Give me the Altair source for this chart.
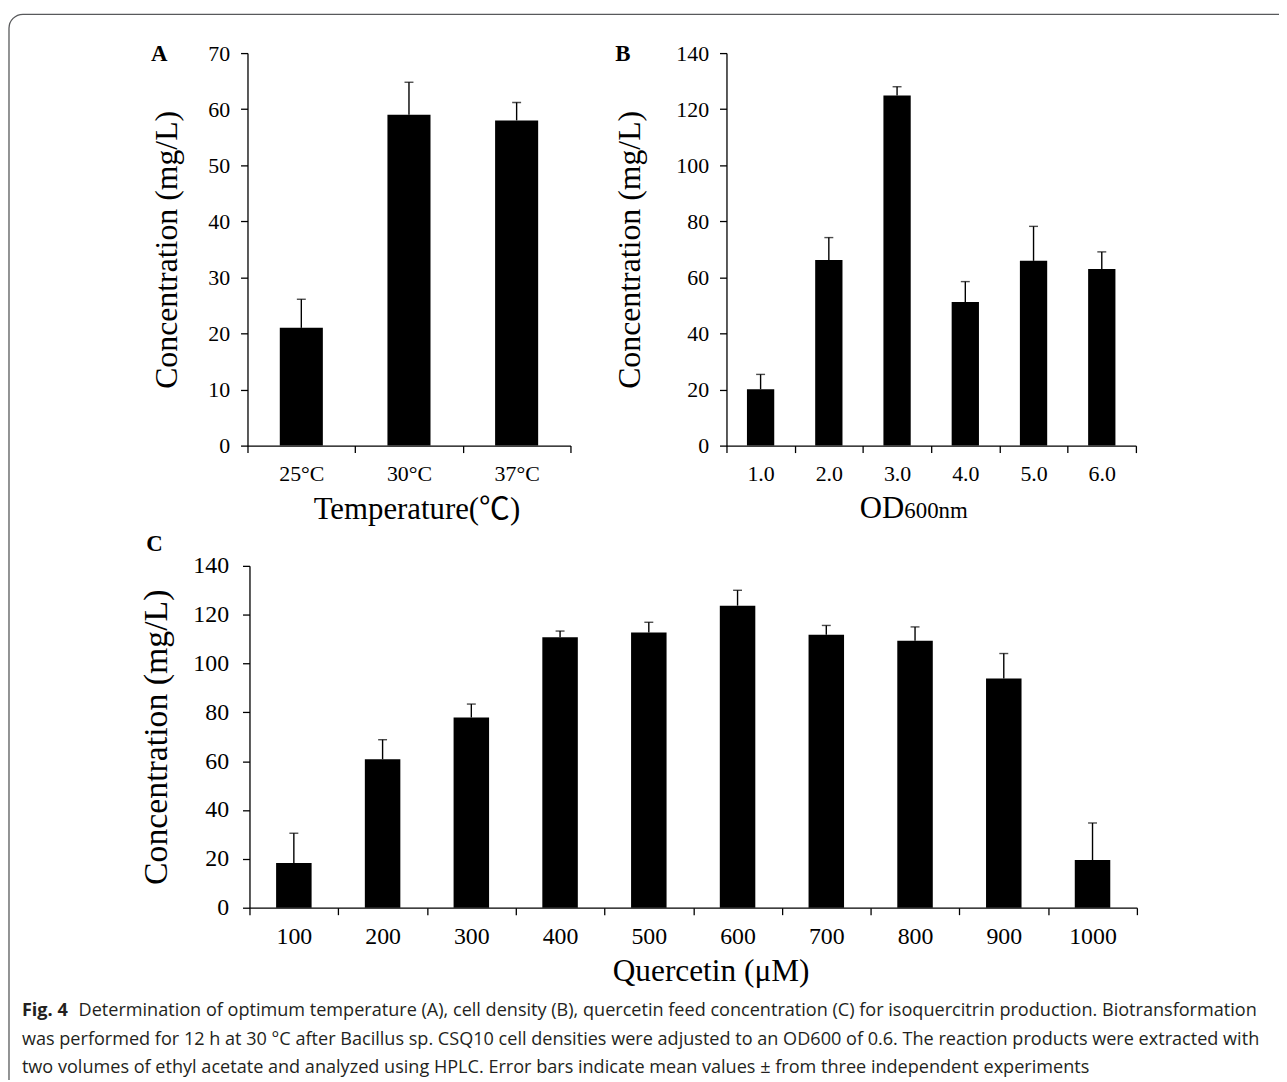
import altair as alt
import pandas as pd

# ---------------- data ----------------
temp_labels = ["25°C", "30°C", "37°C"]
temp_vals = [21.0, 59.0, 58.0]
temp_errs = [5.1, 5.8, 3.2]

od_labels = ["1.0", "2.0", "3.0", "4.0", "5.0", "6.0"]
od_vals = [20.1, 66.2, 124.9, 51.2, 65.9, 63.0]
od_errs = [5.3, 8.0, 3.1, 7.3, 12.3, 6.1]

q_labels = ["100", "200", "300", "400", "500", "600", "700", "800", "900", "1000"]
q_vals = [18.3, 60.8, 77.9, 110.8, 112.7, 123.7, 111.8, 109.3, 93.9, 19.5]
q_errs = [12.2, 8.0, 5.5, 2.5, 4.2, 6.3, 3.8, 5.7, 10.2, 15.2]

a_ticks = [0, 10, 20, 30, 40, 50, 60, 70]
bc_ticks = [0, 20, 40, 60, 80, 100, 120, 140]

caption_lines = [
    "Determination of optimum temperature (A), cell density (B), quercetin feed concentration (C) for isoquercitrin production. Biotransformation",
    "was performed for 12 h at 30 °C after Bacillus sp. CSQ10 cell densities were adjusted to an OD600 of 0.6. The reaction products were extracted with",
    "two volumes of ethyl acetate and analyzed using HPLC. Error bars indicate mean values ± from three independent experiments",
]

W, H = 1279, 1072
SERIF = "Liberation Serif"
SANS = "Open Sans"


def panel(labels, vals, errs, ymax, yticks, xr, yr, lab_fs,
          xtitle, xtitle_x, xtitle_y, xtitle_fs,
          ytitle_x, ytitle_fs, ylabpad, xlabpad):
    df = pd.DataFrame({"cat": labels, "val": vals, "err": errs})
    df["hi"] = df["val"] + df["err"]
    xaxis_kw = dict(
        orient="bottom", offset=yr[0] - H, labelAngle=0, tickBand="extent",
        labelFont=SERIF, labelFontSize=lab_fs, labelColor="black", labelPadding=xlabpad,
        domainColor="black", domainWidth=1.3, tickColor="black", tickWidth=1.3, tickSize=7,
        grid=False,
    )
    if xtitle:
        xaxis_kw.update(title=xtitle, titleFont=SERIF + ", Noto Sans CJK SC",
                        titleFontSize=xtitle_fs, titleFontWeight="normal", titleColor="black",
                        titleX=xtitle_x, titleY=xtitle_y, titleBaseline="alphabetic",
                        titleAlign="center")
    else:
        xaxis_kw.update(title=None)
    x = alt.X("cat:N", sort=labels,
              scale=alt.Scale(range=xr, paddingInner=0, paddingOuter=0),
              axis=alt.Axis(**xaxis_kw))
    y = alt.Y("val:Q",
              scale=alt.Scale(domain=[0, ymax], range=yr, nice=False, zero=True),
              axis=alt.Axis(orient="left", offset=-xr[0], values=yticks, format="d",
                            labelFont=SERIF, labelFontSize=lab_fs, labelColor="black",
                            labelPadding=ylabpad,
                            domainColor="black", domainWidth=1.3, tickColor="black",
                            tickWidth=1.3, tickSize=7, grid=False,
                            title="Concentration (mg/L)", titleFont=SERIF,
                            titleFontSize=ytitle_fs, titleFontWeight="normal",
                            titleColor="black", titleAngle=270,
                            titleX=ytitle_x, titleY=(yr[0] + yr[1]) / 2,
                            titleBaseline="middle", titleAlign="center"))
    base = alt.Chart(df)
    bars = base.mark_bar(color="black", width={"band": 0.4}).encode(x=x, y=y)
    rule = base.mark_rule(color="black", strokeWidth=1.4).encode(
        x=alt.X("cat:N", sort=labels), y="val:Q", y2="hi:Q")
    cap = base.mark_tick(color="black", thickness=1.4, size=9).encode(
        x=alt.X("cat:N", sort=labels), y="hi:Q")
    return alt.layer(bars, rule, cap)


# panel plot rectangles in chart coordinates (page minus 8px margin)
pa = panel(temp_labels, temp_vals, temp_errs, 70, a_ticks, [241, 566], [437, 42], 22,
           "Temperature(℃)", 411, 73, 31, -81.5, 32, 11, 11)
pb = panel(od_labels, od_vals, od_errs, 140, bc_ticks, [723, 1135], [437, 42], 22,
           None, 0, 0, 0, -98, 32, 11, 11)
pc = panel(q_labels, q_vals, q_errs, 140, bc_ticks, [243, 1136], [902, 558], 24,
           "Quercetin (μM)", 707, 73, 31.5, -94, 34, 14, 10)


def txt(s, x, y, size, font=SERIF, weight="normal", style="normal", color="black", align="left"):
    return alt.Chart(pd.DataFrame({"t": [s]})).mark_text(
        font=font, fontSize=size, fontWeight=weight, fontStyle=style, color=color,
        align=align, baseline="alphabetic").encode(
        text="t:N", x=alt.value(x), y=alt.value(y))


letters = [
    txt("A", 144, 50, 23, weight="bold"),
    txt("B", 611, 50, 23, weight="bold"),
    txt("C", 139, 543, 23, weight="bold"),
]
od_title = [
    txt("OD", 857, 510, 31),
    txt("600nm", 902, 510, 23),
]
cap_color = "#231f20"
CS = 18.2
caption = [
    txt("Fig. 4", 14, 1011, CS, font=SANS, weight="bold", color=cap_color),
    txt(caption_lines[0], 71, 1011, CS, font=SANS, color=cap_color),
    txt(caption_lines[1], 14, 1040, CS, font=SANS, color=cap_color),
    txt(caption_lines[2], 14, 1068, CS, font=SANS, color=cap_color),
]

frame = alt.Chart(pd.DataFrame({"f": [0]})).mark_rect(
    fillOpacity=0, stroke="#58595b", strokeWidth=1.3, cornerRadius=14).encode(
    x=alt.value(1), x2=alt.value(1400), y=alt.value(3), y2=alt.value(1200))

chart = alt.layer(frame, pa, pb, pc, *letters, *od_title, *caption).resolve_scale(
    x="independent", y="independent").resolve_axis(
    x="independent", y="independent").properties(
    width=W, height=H, autosize=alt.AutoSizeParams(type="none"),
    padding=0, background="white").configure_view(stroke=None)

chart.save("out.html", embed_options={"renderer": "svg", "actions": False})
